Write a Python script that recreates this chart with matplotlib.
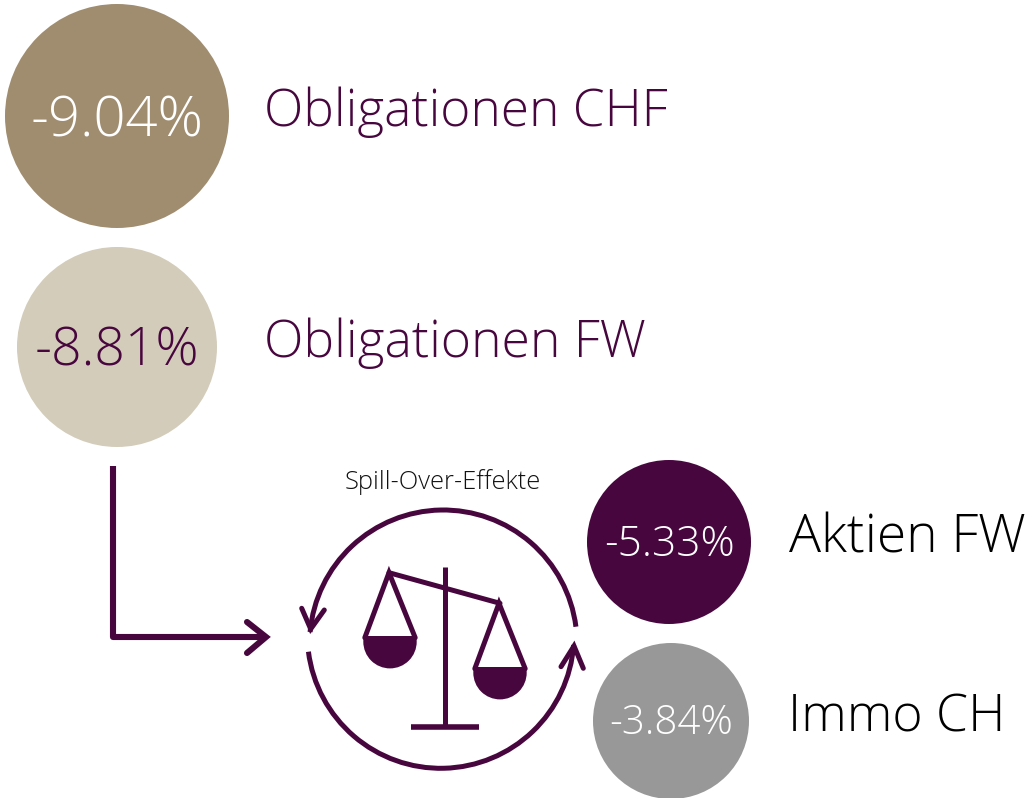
import numpy as np
import matplotlib
matplotlib.use("Agg")
import matplotlib.pyplot as plt
from matplotlib.patches import Circle, Arc, Rectangle

plt.rcParams['font.family'] = ['Open Sans', 'DejaVu Sans']

values = ["-9.04%", "-8.81%", "-5.33%", "-3.84%"]
names = ["Obligationen CHF", "Obligationen FW", "Aktien FW", "Immo CH"]
centers = [(117, 116), (117, 347), (669, 542), (671, 721)]
radii = [112, 100, 82, 78]
fills = ["#a08d70", "#d4ccba", "#48063f", "#989898"]
value_colors = ["white", "#48063f", "white", "white"]
value_sizes = [40.5, 38.5, 30.5, 29]
value_dy = [6, 5, 3, 3]
name_x = [264, 264, 789, 788]
name_y = [112, 343, 539, 718]
name_colors = ["#48063f", "#48063f", "black", "black"]
name_sizes = [37, 37.2, 38.4, 37.2]
caption = "Spill-Over-Effekte"
P = "#48063f"

fig = plt.figure(figsize=(10.32, 7.98), dpi=100)
ax = fig.add_axes([0, 0, 1, 1])
ax.set_xlim(0, 1032)
ax.set_ylim(798, 0)
ax.set_aspect("equal")
ax.axis("off")

for c, r, f, v, vc, vs, dy in zip(centers, radii, fills, values, value_colors, value_sizes, value_dy):
    ax.add_patch(Circle(c, r, fc=f, ec="none"))
    ax.text(c[0], c[1] + dy, v, color=vc, fontsize=vs, ha="center", va="center", fontweight="light")
for n, x, y, col, s in zip(names, name_x, name_y, name_colors, name_sizes):
    ax.text(x, y, n, color=col, fontsize=s, ha="left", va="center", fontweight="light")
ax.text(443, 482, caption, color="#111111", fontsize=18.4, ha="center", va="center", fontweight="light")

lw = 3.6
# elbow arrow
ax.plot([113, 113, 264], [466, 637, 637], color=P, lw=4.4, solid_joinstyle="round", solid_capstyle="butt")
ax.plot([247, 266, 247], [622, 637, 653], color=P, lw=4.4, solid_joinstyle="miter", solid_capstyle="round")

# cycle ring (two arcs with slightly different centres)
ax.add_patch(Arc((443.3, 643.7), 267.4, 267.4, theta1=185, theta2=352.7, color=P, lw=lw))
ax.add_patch(Arc((440.7, 635), 266.6, 266.6, theta1=4.3, theta2=172.8, color=P, lw=lw))
ax.plot([301.7, 310.7, 324.3], [608.3, 629, 610], color=P, lw=lw, solid_joinstyle="miter", solid_capstyle="round")
ax.plot([561, 574, 583.3], [666.7, 646, 668.3], color=P, lw=lw, solid_joinstyle="miter", solid_capstyle="round")

# scales
ax.plot([445, 445], [566.7, 727], color=P, lw=lw, solid_capstyle="butt")
ax.plot([410.7, 479], [727, 727], color=P, lw=lw + 0.4, solid_capstyle="butt")
ax.plot([389, 500], [572.7, 603.3], color=P, lw=lw, solid_capstyle="round")

for (px, py, flat, apex) in [(390, 641.7, 635.7, 572.7), (500, 672.7, 666.7, 603.3)]:
    r = 26.7
    bowl = Circle((px, py), r, fc=P, ec="none")
    ax.add_patch(bowl)
    bowl.set_clip_path(Rectangle((px - r - 1, flat), 2 * r + 2, r + 10, transform=ax.transData))
    ax.plot([px - r + 1.5, px - 1, px + r - 1.5], [flat + 2, apex, flat + 2], color=P, lw=lw,
            solid_joinstyle="miter", solid_capstyle="round")

fig.savefig("out.png", dpi=100)
